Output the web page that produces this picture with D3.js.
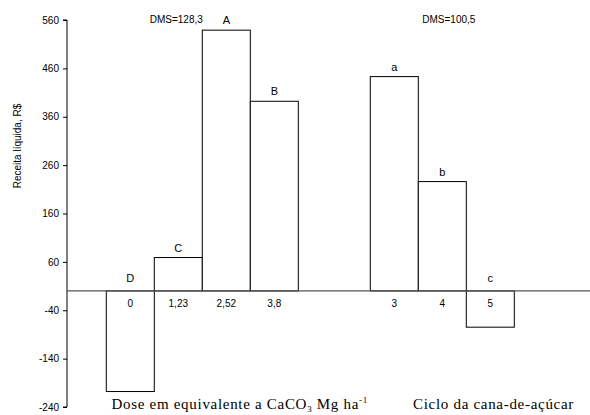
<!DOCTYPE html>
<html>
<head>
<meta charset="utf-8">
<script src="https://cdn.jsdelivr.net/npm/d3@7"></script>
<style>
  html, body { margin: 0; padding: 0; background: #fff; }
  svg { display: block; }
  .sans { font-family: Arial, "Liberation Sans", sans-serif; fill: #000; }
  .serif { font-family: "Times New Roman", "Liberation Serif", serif; fill: #000; letter-spacing: 0.7px; }
</style>
</head>
<body>
<svg id="chart" width="590" height="415"></svg>
<script>
// Net revenue by limestone dose (left group) and by sugarcane cycle (right group)
const doseLabels = ["0", "1,23", "2,52", "3,8"];
const doseValues = [-208, 69, 539, 392];
const doseLetters = ["D", "C", "A", "B"];

const cycleLabels = ["3", "4", "5"];
const cycleValues = [443, 226, -75];
const cycleLetters = ["a", "b", "c"];

const yTicks = [-240, -140, -40, 60, 160, 260, 360, 460, 560];
const dmsLabels = ["DMS=128,3", "DMS=100,5"];

const svg = d3.select("#chart");

const y = d3.scaleLinear().domain([-240, 560]).range([407, 20]);

// Bars sit in equal-width slots; the second group starts after a gap of 1.5 slots
const groups = [
  { labels: doseLabels, values: doseValues, letters: doseLetters },
  { labels: cycleLabels, values: cycleValues, letters: cycleLetters }
];
const bars = [];
let slot = 0;
groups.forEach((g, gi) => {
  g.values.forEach((v, i) => {
    bars.push({ group: gi, slot: slot + i, value: v, label: g.labels[i], letter: g.letters[i] });
  });
  slot += g.values.length + 1.5;
});
const nSlots = slot - 1.5;
const x = d3.scaleLinear().domain([0, nSlots]).range([106.3, 106.3 + nSlots * 48]);
const bw = x(1) - x(0);

// Y axis (plain hyphen for negative numbers)
const axis = d3.axisLeft(y).tickValues(yTicks).tickSize(4).tickPadding(4).tickFormat(d => String(d));
const ga = svg.append("g").attr("transform", "translate(67,0)").call(axis);
ga.select(".domain").attr("stroke", "#000").attr("d", `M-4,${y(560)}H0V${y(-240)}H-4`);
ga.selectAll(".tick line").attr("stroke", "#000");
ga.selectAll(".tick text").attr("class", "sans").style("font-size", "10px").attr("font-family", null);

svg.append("text").attr("class", "sans")
  .attr("transform", `translate(21,146) rotate(-90)`)
  .attr("text-anchor", "middle").style("font-size", "10px")
  .text("Receita líquida, R$");

// Bars
svg.append("g").selectAll("rect").data(bars).join("rect")
  .attr("x", d => x(d.slot))
  .attr("width", bw)
  .attr("y", d => y(Math.max(0, d.value)))
  .attr("height", d => Math.abs(y(d.value) - y(0)))
  .attr("fill", "#fff").attr("stroke", "#000").attr("stroke-width", 1);

// Zero line
svg.append("line").attr("x1", 67).attr("x2", 590)
  .attr("y1", y(0)).attr("y2", y(0))
  .attr("stroke", "#555").attr("stroke-width", 1.2);

// Significance letters
svg.append("g").selectAll("text").data(bars).join("text")
  .attr("class", "sans").style("font-size", "11px").attr("text-anchor", "middle")
  .attr("x", d => x(d.slot) + bw / 2)
  .attr("y", d => y(Math.max(0, d.value)) - (d.value < 0 ? 9 : 6))
  .text(d => d.letter);

// Category labels just below the zero line
svg.append("g").selectAll("text").data(bars).join("text")
  .attr("class", "sans").style("font-size", "10px").attr("text-anchor", "middle")
  .attr("x", d => x(d.slot) + bw / 2)
  .attr("y", y(0) + 16)
  .text(d => d.label);

// DMS annotations
svg.append("text").attr("class", "sans").style("font-size", "10px")
  .attr("text-anchor", "end").attr("x", x(2) + 0.5).attr("y", 23)
  .text(dmsLabels[0]);
svg.append("text").attr("class", "sans").style("font-size", "10px")
  .attr("text-anchor", "start").attr("x", x(6.5) + 4).attr("y", 23)
  .text(dmsLabels[1]);

// Group titles
const t1 = svg.append("text").attr("class", "serif").style("font-size", "15px")
  .attr("x", 111.5).attr("y", 409);
t1.append("tspan").text("Dose em equivalente a CaCO");
t1.append("tspan").attr("dy", 3).style("font-size", "9px").text("3");
t1.append("tspan").attr("dy", -3).text(" Mg ha");
t1.append("tspan").attr("dy", -6).style("font-size", "9px").text("-1");

svg.append("text").attr("class", "serif").style("font-size", "15px")
  .attr("x", 413).attr("y", 409)
  .text("Ciclo da cana-de-açúcar");
</script>
</body>
</html>
